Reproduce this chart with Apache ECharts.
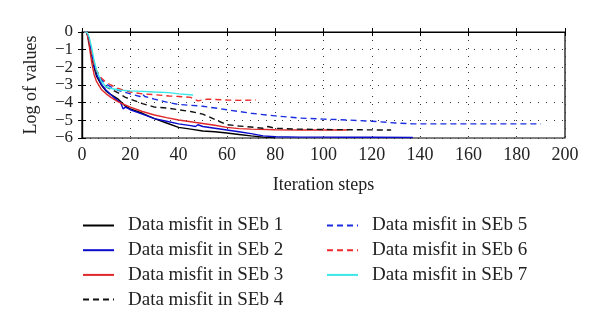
<!DOCTYPE html>
<html>
<head>
<meta charset="utf-8">
<script src="https://cdn.jsdelivr.net/npm/echarts@6/dist/echarts.min.js"></script>
<style>html,body{margin:0;padding:0;background:#fff}#c{width:600px;height:332px}</style>
</head>
<body>
<div id="c"></div>
<script>
var names = ['Data misfit in SEb 1','Data misfit in SEb 2','Data misfit in SEb 3','Data misfit in SEb 4','Data misfit in SEb 5','Data misfit in SEb 6','Data misfit in SEb 7'];
var xTicks = [0,20,40,60,80,100,120,140,160,180,200];
var yTicks = [0,-1,-2,-3,-4,-5,-6];

var s1Steps = [1,2,3,4,5,6,8,10,12,15,18,20,25,30,35,40,45,50,55,60,65,70,75,80];
var s1Vals  = [0,0,-0.6,-1.3,-2.0,-2.5,-3.0,-3.35,-3.55,-3.8,-4.2,-4.35,-4.6,-4.9,-5.15,-5.4,-5.5,-5.6,-5.65,-5.72,-5.8,-5.88,-5.95,-5.98];

var s2Steps = [1,2,3,4,5,6,8,10,12,14,16,17,18,20,25,30,35,40,45,47,48,50,55,60,65,70,75,80,90,100,110,120,137];
var s2Vals  = [0,0,-0.5,-1.2,-1.9,-2.4,-2.95,-3.3,-3.55,-3.8,-4.0,-4.35,-4.25,-4.4,-4.65,-4.9,-5.05,-5.2,-5.3,-5.35,-5.25,-5.35,-5.45,-5.55,-5.65,-5.75,-5.88,-5.93,-5.95,-5.95,-5.96,-5.96,-5.97];

var s3Steps = [1,2,3,4,5,6,8,10,12,15,20,25,30,35,40,45,50,55,60,65,70,80,90,100,110];
var s3Vals  = [0,0,-0.8,-1.7,-2.4,-2.8,-3.25,-3.5,-3.7,-3.95,-4.25,-4.5,-4.7,-4.85,-4.98,-5.08,-5.18,-5.28,-5.4,-5.47,-5.5,-5.53,-5.55,-5.55,-5.55];

var s4Steps = [1,2,3,4,5,6,8,10,13,15,18,20,25,30,35,40,45,50,55,60,65,70,75,77,80,90,100,110,128];
var s4Vals  = [0,0,-0.6,-1.3,-1.9,-2.3,-2.8,-3.1,-3.3,-3.45,-3.7,-3.8,-4.05,-4.25,-4.3,-4.4,-4.5,-4.65,-4.95,-5.25,-5.32,-5.38,-5.45,-5.35,-5.45,-5.5,-5.52,-5.53,-5.55];

var s5Steps = [1,2,3,4,5,6,8,10,12,15,20,24,25,26,30,36,40,50,60,70,80,90,100,110,120,130,137,150,170,190];
var s5Vals  = [0,0,-0.5,-1.2,-1.8,-2.2,-2.7,-2.95,-3.1,-3.3,-3.5,-3.65,-3.5,-3.65,-3.8,-4.0,-4.1,-4.2,-4.4,-4.6,-4.75,-4.87,-4.93,-4.98,-5.05,-5.15,-5.2,-5.2,-5.2,-5.2];

var s6Steps = [1,2,3,4,5,6,8,10,12,15,20,25,30,36,40,45,48,50,52,60,65,72];
var s6Vals  = [0,0,-0.5,-1.2,-1.8,-2.2,-2.6,-2.85,-3.0,-3.2,-3.4,-3.5,-3.55,-3.62,-3.65,-3.7,-3.9,-3.85,-3.8,-3.85,-3.87,-3.85];

var s7Steps = [1,2,3,4,5,6,8,10,12,16,20,25,30,36,40,46];
var s7Vals  = [0,0,-0.3,-0.9,-1.6,-2.15,-2.8,-3.1,-3.2,-3.3,-3.33,-3.36,-3.4,-3.43,-3.5,-3.57];

var allSteps = [s1Steps,s2Steps,s3Steps,s4Steps,s5Steps,s6Steps,s7Steps];
var allVals = [s1Vals,s2Vals,s3Vals,s4Vals,s5Vals,s6Vals,s7Vals];
var colors = ['#000000','#0a0acc','#e0282a','#111111','#1a2ee0','#ee2a2a','#3ae6e6'];
var types = ['solid','solid','solid',[6,4],[6,4],[6,4],'solid'];

var FONT = '"Liberation Serif", "DejaVu Serif", serif';
function fmtNeg(v){ return v < 0 ? '\u2212' + (-v) : String(v); }

var series = names.map(function(n, i){
  return {
    name: n, type: 'line', showSymbol: false, symbol: 'none', animation: false,
    xAxisIndex: 0, yAxisIndex: 0,
    data: allSteps[i].map(function(s, j){ return [s, allVals[i][j]]; }),
    lineStyle: { color: colors[i], width: 1.4, type: types[i] },
    itemStyle: { color: colors[i] }
  };
});

var legendCommon = {
  orient: 'vertical', itemWidth: 31, itemHeight: 14, itemGap: 5.7,
  itemStyle: { opacity: 0, borderWidth: 0 },
  textStyle: { fontFamily: FONT, fontSize: 19, color: '#222', padding: [0,0,0,9] },
  selectedMode: false
};

var option = {
  backgroundColor: '#fff',
  animation: false,
  grid: { left: 82, right: 35, top: 32, bottom: 194, containLabel: false, show: true, borderColor: '#000', borderWidth: 1.2, backgroundColor: 'transparent' },
  xAxis: [{
    type: 'value', min: 0, max: 200, interval: 20,
    name: 'Iteration steps', nameLocation: 'middle', nameGap: 38,
    nameTextStyle: { fontFamily: FONT, fontSize: 18, color: '#222' },
    axisLine: { show: true, lineStyle: { color: '#000', width: 1.2 } },
    axisTick: { show: true, inside: true, length: 4, lineStyle: { color: '#000' } },
    axisLabel: { fontFamily: FONT, fontSize: 18, color: '#222', margin: 8, showMinLabel: true, showMaxLabel: true },
    splitLine: { show: true, lineStyle: { color: '#333', type: [1,7], width: 1 } }
  },{
    type: 'value', min: 0, max: 200, interval: 20, position: 'top',
    axisLine: { show: true, lineStyle: { color: '#000', width: 1.2 } },
    axisTick: { show: true, inside: true, length: 4, lineStyle: { color: '#000' } },
    axisLabel: { show: false }, splitLine: { show: false }
  }],
  yAxis: [{
    type: 'value', min: -6, max: 0, interval: 1,
    name: 'Log of values', nameLocation: 'middle', nameGap: 42,
    nameTextStyle: { fontFamily: FONT, fontSize: 18, color: '#222' },
    axisLine: { show: true, lineStyle: { color: '#000', width: 1.2 } },
    axisTick: { show: true, inside: true, length: 4, lineStyle: { color: '#000' } },
    axisLabel: { fontFamily: FONT, fontSize: 17, color: '#222', margin: 9, formatter: fmtNeg, showMinLabel: true, showMaxLabel: true },
    splitLine: { show: true, lineStyle: { color: '#333', type: [1,7], width: 1 } }
  },{
    type: 'value', min: -6, max: 0, interval: 1, position: 'right',
    axisLine: { show: true, lineStyle: { color: '#000', width: 1.2 } },
    axisTick: { show: true, inside: true, length: 4, lineStyle: { color: '#000' } },
    axisLabel: { show: false }, splitLine: { show: false }
  }],
  legend: [
    Object.assign({}, legendCommon, { left: 77, top: 211, data: names.slice(0,4) }),
    Object.assign({}, legendCommon, { left: 321, top: 211, data: names.slice(4) })
  ],
  series: series
};
echarts.init(document.getElementById('c'), null, { renderer: 'canvas' }).setOption(option);
</script>
</body>
</html>
